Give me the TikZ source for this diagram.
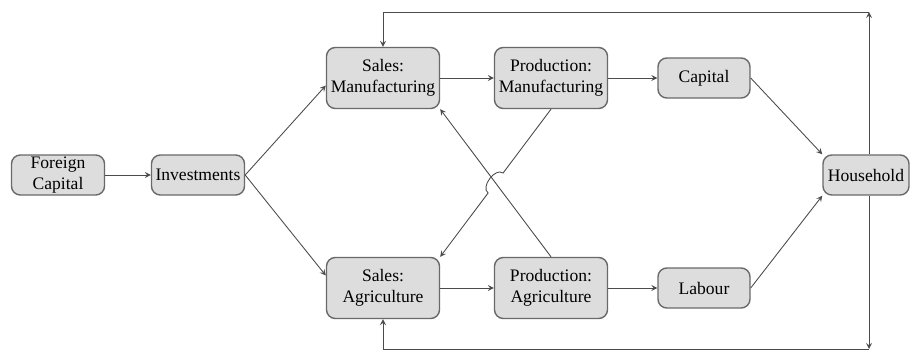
\documentclass[tikz,border=0pt]{standalone}
\usepackage{fontspec}
\setmainfont{Liberation Serif}
\usetikzlibrary{calc}
\definecolor{boxfill}{RGB}{221,221,221}
\definecolor{boxline}{RGB}{105,105,105}
\definecolor{linecol}{RGB}{75,75,75}
\tikzset{block/.style={draw=boxline,fill=boxfill,rounded corners=5pt,align=center,inner sep=1pt,line width=0.8pt}}
\tikzset{small block/.style={block,minimum width=1.86cm,minimum height=0.8cm}}
\tikzset{big block/.style={block,minimum width=2.26cm,minimum height=1.22cm}}
\tikzset{edge/.style={-stealth,draw=linecol,line width=0.5pt}}
\begin{document}
\begin{tikzpicture}
\useasboundingbox (0,0) rectangle (18.2,7.12);
\node [small block] (fc) at (1.16,3.62) {Foreign\\Capital};
\node [small block] (inv) at (3.96,3.62) {Investments};
\node [big block] (sm) at (7.66,5.56) {Sales:\\Manufacturing};
\node [big block] (pm) at (11.02,5.56) {Production:\\Manufacturing};
\node [small block,minimum width=1.84cm] (cap) at (14.08,5.56) {Capital};
\node [big block] (sa) at (7.66,1.36) {Sales:\\Agriculture};
\node [big block] (pa) at (11.02,1.36) {Production:\\Agriculture};
\node [small block,minimum width=1.84cm] (lab) at (14.08,1.36) {Labour};
\node [small block,minimum width=1.72cm] (hh) at (17.32,3.62) {Household};
\coordinate (tr) at (17.38,6.88);
\coordinate (br) at (17.38,0.14);

\draw [edge] (fc) -- (inv);
\draw [edge] (inv.east) -- ([yshift=-1.5mm]sm.west);
\draw [edge] (inv.east) -- ([yshift=2.5mm]sa.west);

\draw [edge] (sm) -- (pm);
\draw [edge] (pm) -- (cap);
\draw [edge] (sa) -- (pa);
\draw [edge] (pa) -- (lab);

\draw [edge] (cap.east) -- (hh.north west);
\draw [edge] (lab.east) -- (hh.south west);

% crossing with a hop
\draw [edge] (pa.north) -- (sm.south east);
\coordinate (jx) at (intersection of pm.south--sa.north east and pa.north--sm.south east);
\draw [edge] (pm.south) -- ($(jx)!2.5mm!(pm.south)$) to[bend right=90] ($(jx)!2.5mm!(sa.north east)$) -- (sa.north east);

% feedback from the household
\draw [edge] (hh.north -| tr) -- (tr);
\draw [edge] (tr) -| (sm.north);
\draw [edge] (hh.south -| br) -- (br);
\draw [edge] (br) -| (sa.south);
\end{tikzpicture}
\end{document}
